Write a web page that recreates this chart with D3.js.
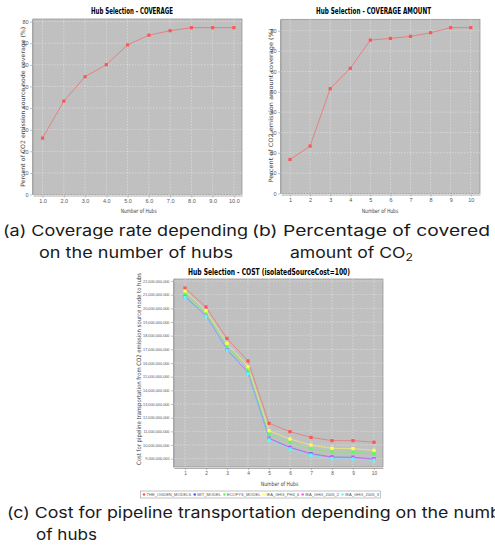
<!DOCTYPE html>
<html>
<head>
<meta charset="utf-8">
<script src="https://cdn.jsdelivr.net/npm/d3@7"></script>
<style>
  body { margin: 0; background: #fff; }
  svg text { font-family: "DejaVu Sans", sans-serif; }
</style>
</head>
<body>
<svg id="fig" width="495" height="553"></svg>
<script>
// values
const hubs = [1, 2, 3, 4, 5, 6, 7, 8, 9, 10];
const coverage = [26.1, 43.2, 54.5, 60.1, 69.2, 73.7, 75.8, 77.2, 77.2, 77.2];
const coverageAmount = [16.7, 23.3, 51.5, 61.5, 75.4, 76.2, 77.2, 79.0, 81.5, 81.5];

const costOgden  = [21490000000, 20100000000, 17800000000, 16150000000, 11590000000, 10980000000, 10560000000, 10320000000, 10320000000, 10200000000];
const costMit    = [20850000000, 19440000000, 16980000000, 15290000000, 10490000000, 9830000000, 9370000000, 9120000000, 9100000000, 8980000000];
const costEcofys = [21050000000, 19630000000, 17240000000, 15510000000, 10780000000, 10200000000, 9730000000, 9490000000, 9470000000, 9370000000];
const costPh4    = [21270000000, 19830000000, 17440000000, 15730000000, 11050000000, 10440000000, 10000000000, 9760000000, 9740000000, 9610000000];
const cost2005_2 = [20830000000, 19420000000, 16960000000, 15270000000, 10450000000, 9780000000, 9320000000, 9070000000, 9050000000, 8940000000];
const cost2005_3 = [20800000000, 19400000000, 16930000000, 15240000000, 10370000000, 9710000000, 9250000000, 9000000000, 8980000000, 8880000000];

const coverageTicks = [0, 10, 20, 30, 40, 50, 60, 70, 80];
const costTicks = [9e9, 10e9, 11e9, 12e9, 13e9, 14e9, 15e9, 16e9, 17e9, 18e9, 19e9, 20e9, 21e9, 22e9];
const seriesNames = ["THE_OGDEN_MODELS", "MIT_MODEL", "ECOFYS_MODEL", "IEA_GHG_PH4_6", "IEA_GHG_2005_2", "IEA_GHG_2005_3"];
const seriesColors = ["#ff5555", "#5555ff", "#55ff55", "#ffff55", "#ff55ff", "#55ffff"];

const svg = d3.select("#fig");

// stretch text to a width; anchor is kept at "start" because
// textLength and text-anchor=middle don't mix well in chrome
function fitted(parent, cx, y, w, str, rotate) {
  const t = parent.append("text")
    .attr("text-anchor", "start")
    .attr("textLength", w).attr("lengthAdjust", "spacingAndGlyphs")
    .text(str);
  if (rotate) t.attr("transform", "translate(" + cx + "," + y + ") rotate(-90)").attr("x", -w / 2).attr("y", 0);
  else t.attr("x", cx - w / 2).attr("y", y);
  return t;
}

function panel(c) {
  const g = svg.append("g");
  const x = d3.scaleLinear().domain(c.xDomain).range([c.left, c.right]);
  const y = d3.scaleLinear().domain(c.yDomain).range([c.bottom, c.top]);

  g.append("rect")
    .attr("x", c.left).attr("y", c.top)
    .attr("width", c.right - c.left).attr("height", c.bottom - c.top)
    .attr("fill", "#c0c0c0").attr("stroke", "#8c8c8c").attr("stroke-width", 0.7);

  // grid
  g.selectAll(".vg").data(hubs).join("line")
    .attr("x1", d => x(d)).attr("x2", d => x(d))
    .attr("y1", c.top).attr("y2", c.bottom)
    .attr("stroke", "#fff").attr("stroke-width", 0.5)
    .attr("stroke-dasharray", "1.5,1.5").attr("opacity", 0.75);
  g.selectAll(".hg").data(c.yTicks).join("line")
    .attr("x1", c.left).attr("x2", c.right)
    .attr("y1", d => y(d)).attr("y2", d => y(d))
    .attr("stroke", "#fff").attr("stroke-width", 0.5)
    .attr("stroke-dasharray", "1.5,1.5").attr("opacity", 0.75);

  // axes
  const ax = g.append("g").attr("transform", "translate(0," + (c.bottom + 1) + ")")
    .call(d3.axisBottom(x).tickValues(hubs).tickFormat(c.xFmt).tickSize(2).tickSizeOuter(0).tickPadding(2));
  const ay = g.append("g").attr("transform", "translate(" + (c.left - 1) + ",0)")
    .call(d3.axisLeft(y).tickValues(c.yTicks).tickFormat(c.yFmt).tickSize(2).tickSizeOuter(0).tickPadding(1.5));
  ax.selectAll(".tick text").style("font-size", c.xTickFont + "px");
  ay.selectAll(".tick text").style("font-size", c.yTickFont + "px");
  [ax, ay].forEach(a => {
    a.select(".domain").attr("stroke", "#999").attr("stroke-width", 0.8);
    a.selectAll(".tick line").attr("stroke", "#999").attr("stroke-width", 0.6);
    a.selectAll(".tick text").attr("fill", "#555")
      .style("font-family", "'Liberation Sans', sans-serif");
  });

  // series
  const line = d3.line().x((d, i) => x(hubs[i])).y(d => y(d));
  c.series.forEach(s => {
    g.append("path").datum(s.values)
      .attr("d", line).attr("fill", "none")
      .attr("stroke", s.color).attr("stroke-width", 1)
      .attr("stroke-opacity", s.lineOpacity);
    g.selectAll(null).data(s.values).join("rect")
      .attr("x", (d, i) => x(hubs[i]) - 1.6).attr("y", d => y(d) - 1.6)
      .attr("width", 3.2).attr("height", 3.2).attr("fill", s.color);
  });

  // title and axis labels
  fitted(g, c.titleX, c.titleY, c.titleW, c.title)
    .attr("font-weight", "bold").style("font-size", "8.5px")
    .style("font-family", "'DejaVu Sans Condensed', 'DejaVu Sans', sans-serif");
  fitted(g, c.xLabelX, c.xLabelY, c.xLabelW, "Number of Hubs")
    .attr("fill", "#444").style("font-size", "6px");
  fitted(g, c.yLabelX, c.yLabelY, c.yLabelW, c.yLabel, true)
    .attr("fill", "#444").style("font-size", "6px");
  return g;
}

panel({
  left: 33, right: 242, top: 19, bottom: 194.5,
  xDomain: [0.55, 10.38], yDomain: [0, 81.2],
  yTicks: coverageTicks, xFmt: d3.format(".1f"), yFmt: d3.format("d"), xTickFont: 5.5, yTickFont: 5.5,
  series: [{ values: coverage, color: "#ff5555", lineOpacity: 0.6 }],
  title: "Hub Selection - COVERAGE", titleX: 132, titleY: 14, titleW: 82,
  xLabelX: 138.7, xLabelY: 213, xLabelW: 36,
  yLabel: "Percent of CO2 emission source node coverage (%)", yLabelX: 24.5, yLabelY: 106.7, yLabelW: 160
});

panel({
  left: 281, right: 480, top: 19.3, bottom: 193.5,
  xDomain: [0.55, 10.46], yDomain: [0, 85.6],
  yTicks: coverageTicks, xFmt: d3.format("d"), yFmt: d3.format("d"), xTickFont: 5.5, yTickFont: 5.5,
  series: [{ values: coverageAmount, color: "#ff5555", lineOpacity: 0.6 }],
  title: "Hub Selection - COVERAGE AMOUNT", titleX: 373.5, titleY: 14, titleW: 115,
  xLabelX: 380, xLabelY: 213, xLabelW: 36.6,
  yLabel: "Percent of CO2 emission amount coverage (%)", yLabelX: 272.5, yLabelY: 105.5, yLabelW: 154
});

const costSeries = [costOgden, costMit, costEcofys, costPh4, cost2005_2, cost2005_3];
panel({
  left: 174, right: 383, top: 279, bottom: 467,
  xDomain: [0.476, 10.43], yDomain: [8.39e9, 22.15e9],
  yTicks: costTicks, xFmt: d3.format("d"), yFmt: d3.format(","), xTickFont: 4.8, yTickFont: 3.8,
  series: costSeries.map((v, i) => ({ values: v, color: seriesColors[i], lineOpacity: 0.55 })),
  title: "Hub Selection - COST (isolatedSourceCost=100)", titleX: 269, titleY: 275, titleW: 162,
  xLabelX: 279.5, xLabelY: 486, xLabelW: 37.6,
  yLabel: "Cost for pipeline transportation from CO2 emission source node to hubs", yLabelX: 141, yLabelY: 369, yLabelW: 192
});

// legend of the cost chart, squeezed to the box width seen in the picture
const legLeft = 140.5, legWidth = 240, markGap = 2.5, itemGap = 3.5;
const leg = svg.append("g");
leg.append("rect").attr("x", legLeft).attr("y", 491).attr("width", legWidth).attr("height", 7)
  .attr("fill", "#fff").attr("stroke", "#999").attr("stroke-width", 0.6);
const legTexts = seriesNames.map(name => leg.append("text").attr("y", 496.3)
  .attr("fill", "#555").style("font-size", "4.4px")
  .style("font-family", "'Liberation Sans', sans-serif").text(name));
const natural = legTexts.map(t => t.node().getComputedTextLength());
const room = legWidth - 5 - seriesNames.length * markGap - (seriesNames.length - 1) * itemGap;
const k = room / d3.sum(natural);
let lx = legLeft + 3.5;
legTexts.forEach((t, i) => {
  leg.append("circle").attr("cx", lx).attr("cy", 494.5).attr("r", 1.3).attr("fill", seriesColors[i]);
  const w = natural[i] * k;
  t.attr("x", lx + markGap).attr("textLength", w).attr("lengthAdjust", "spacingAndGlyphs");
  lx += markGap + w + itemGap;
});

// captions
function caption(x, y, parts, w) {
  const t = svg.append("text").attr("x", x).attr("y", y)
    .style("font-family", "Inter, 'Liberation Sans', sans-serif")
    .style("font-size", "15px").attr("fill", "#1a1a1a");
  parts.forEach(p => {
    const s = t.append("tspan").text(p.text);
    if (p.sub) s.attr("dy", 3).style("font-size", "10.5px");
  });
  if (w) t.attr("textLength", w).attr("lengthAdjust", "spacingAndGlyphs");
  return t;
}
caption(3, 235.5, [{ text: "(a) Coverage rate depending" }], 245);
caption(39, 257.5, [{ text: "on the number of hubs" }], 194);
caption(252, 235.5, [{ text: "(b) Percentage of covered" }], 238);
caption(290, 257.5, [{ text: "amount of CO" }, { text: "2", sub: true }], 123);

// the long caption runs past the right edge and is cut off there
const full = "(c) Cost for pipeline transportation depending on the number";
const shown = "(c) Cost for pipeline transportation depending on the num";
const c1 = caption(7, 517.5, [{ text: shown }]);
const shownW = c1.node().getComputedTextLength();
c1.select("tspan").text(full);
const fullW = c1.node().getComputedTextLength();
c1.attr("textLength", fullW * 483 / shownW).attr("lengthAdjust", "spacingAndGlyphs");
caption(36, 539.5, [{ text: "of hubs" }], 61);
</script>
</body>
</html>
